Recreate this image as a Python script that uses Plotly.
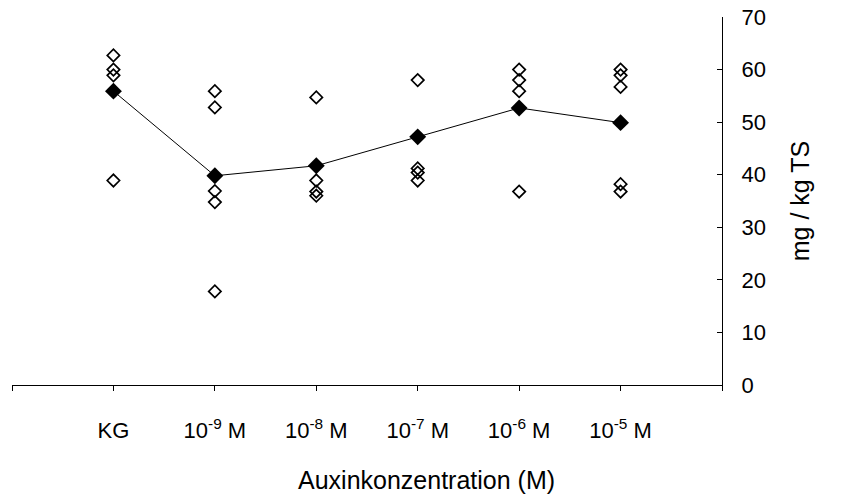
import plotly.graph_objects as go

# Category positions on the x axis (0 and 7 are empty padding slots)
categories = ["KG", "10<sup>-9</sup> M", "10<sup>-8</sup> M", "10<sup>-7</sup> M",
              "10<sup>-6</sup> M", "10<sup>-5</sup> M"]
cat_pos = [1, 2, 3, 4, 5, 6]

# Individual measurements per auxin concentration (mg / kg TS)
kg_vals = [62.7, 60.0, 58.9, 38.9]
m9_vals = [55.9, 52.8, 36.9, 34.8, 17.8]
m8_vals = [54.7, 38.9, 36.8, 36.0]
m7_vals = [58.0, 41.2, 40.4, 38.9]
m6_vals = [60.0, 58.0, 55.9, 36.8]
m5_vals = [60.0, 58.9, 56.7, 38.2, 36.8]

# Group means
means = [55.9, 39.8, 41.7, 47.2, 52.7, 49.9]

y_ticks = [0, 10, 20, 30, 40, 50, 60, 70]

groups = [kg_vals, m9_vals, m8_vals, m7_vals, m6_vals, m5_vals]
xs, ys = [], []
for pos, vals in zip(cat_pos, groups):
    xs += [pos] * len(vals)
    ys += vals

FONT = "Liberation Sans, Arial, sans-serif"

fig = go.Figure()
fig.add_trace(go.Scatter(
    x=xs, y=ys, mode="markers",
    marker=dict(symbol="diamond-open", size=9.5, color="black",
                line=dict(color="black", width=1.7)),
    showlegend=False, hoverinfo="y",
))
fig.add_trace(go.Scatter(
    x=cat_pos, y=means, mode="lines+markers",
    line=dict(color="black", width=1),
    marker=dict(symbol="diamond", size=13, color="black"),
    showlegend=False, hoverinfo="y",
))

fig.update_layout(
    width=845, height=496,
    margin=dict(l=12, r=123, t=17, b=111),
    paper_bgcolor="white", plot_bgcolor="white",
    font=dict(family=FONT, size=22, color="black"),
    xaxis=dict(
        range=[0, 7],
        tickmode="array",
        tickvals=list(range(8)),
        ticktext=[""] + categories + [""],
        ticks="outside", ticklen=5, tickcolor="black", tickwidth=1,
        showline=True, linecolor="black", linewidth=1,
        showgrid=False, zeroline=False,
        automargin=False,
        ticklabelstandoff=21,
        tickfont=dict(size=22),
    ),
    yaxis=dict(
        range=[0, 70],
        side="right",
        tickvals=y_ticks,
        ticks="inside", ticklen=5, tickcolor="black", tickwidth=1,
        showline=True, linecolor="black", linewidth=1,
        showgrid=False, zeroline=False,
        automargin=False,
        ticklabelstandoff=14,
        tickfont=dict(size=22),
        title=dict(text="mg / kg TS", font=dict(size=25), standoff=26),
    ),
    annotations=[dict(
        text="Auxinkonzentration (M)",
        xref="paper", yref="paper",
        x=0.5845, y=-0.258,
        xanchor="center", yanchor="middle",
        showarrow=False,
        font=dict(size=25),
    )],
)

fig.write_html("out.html")
